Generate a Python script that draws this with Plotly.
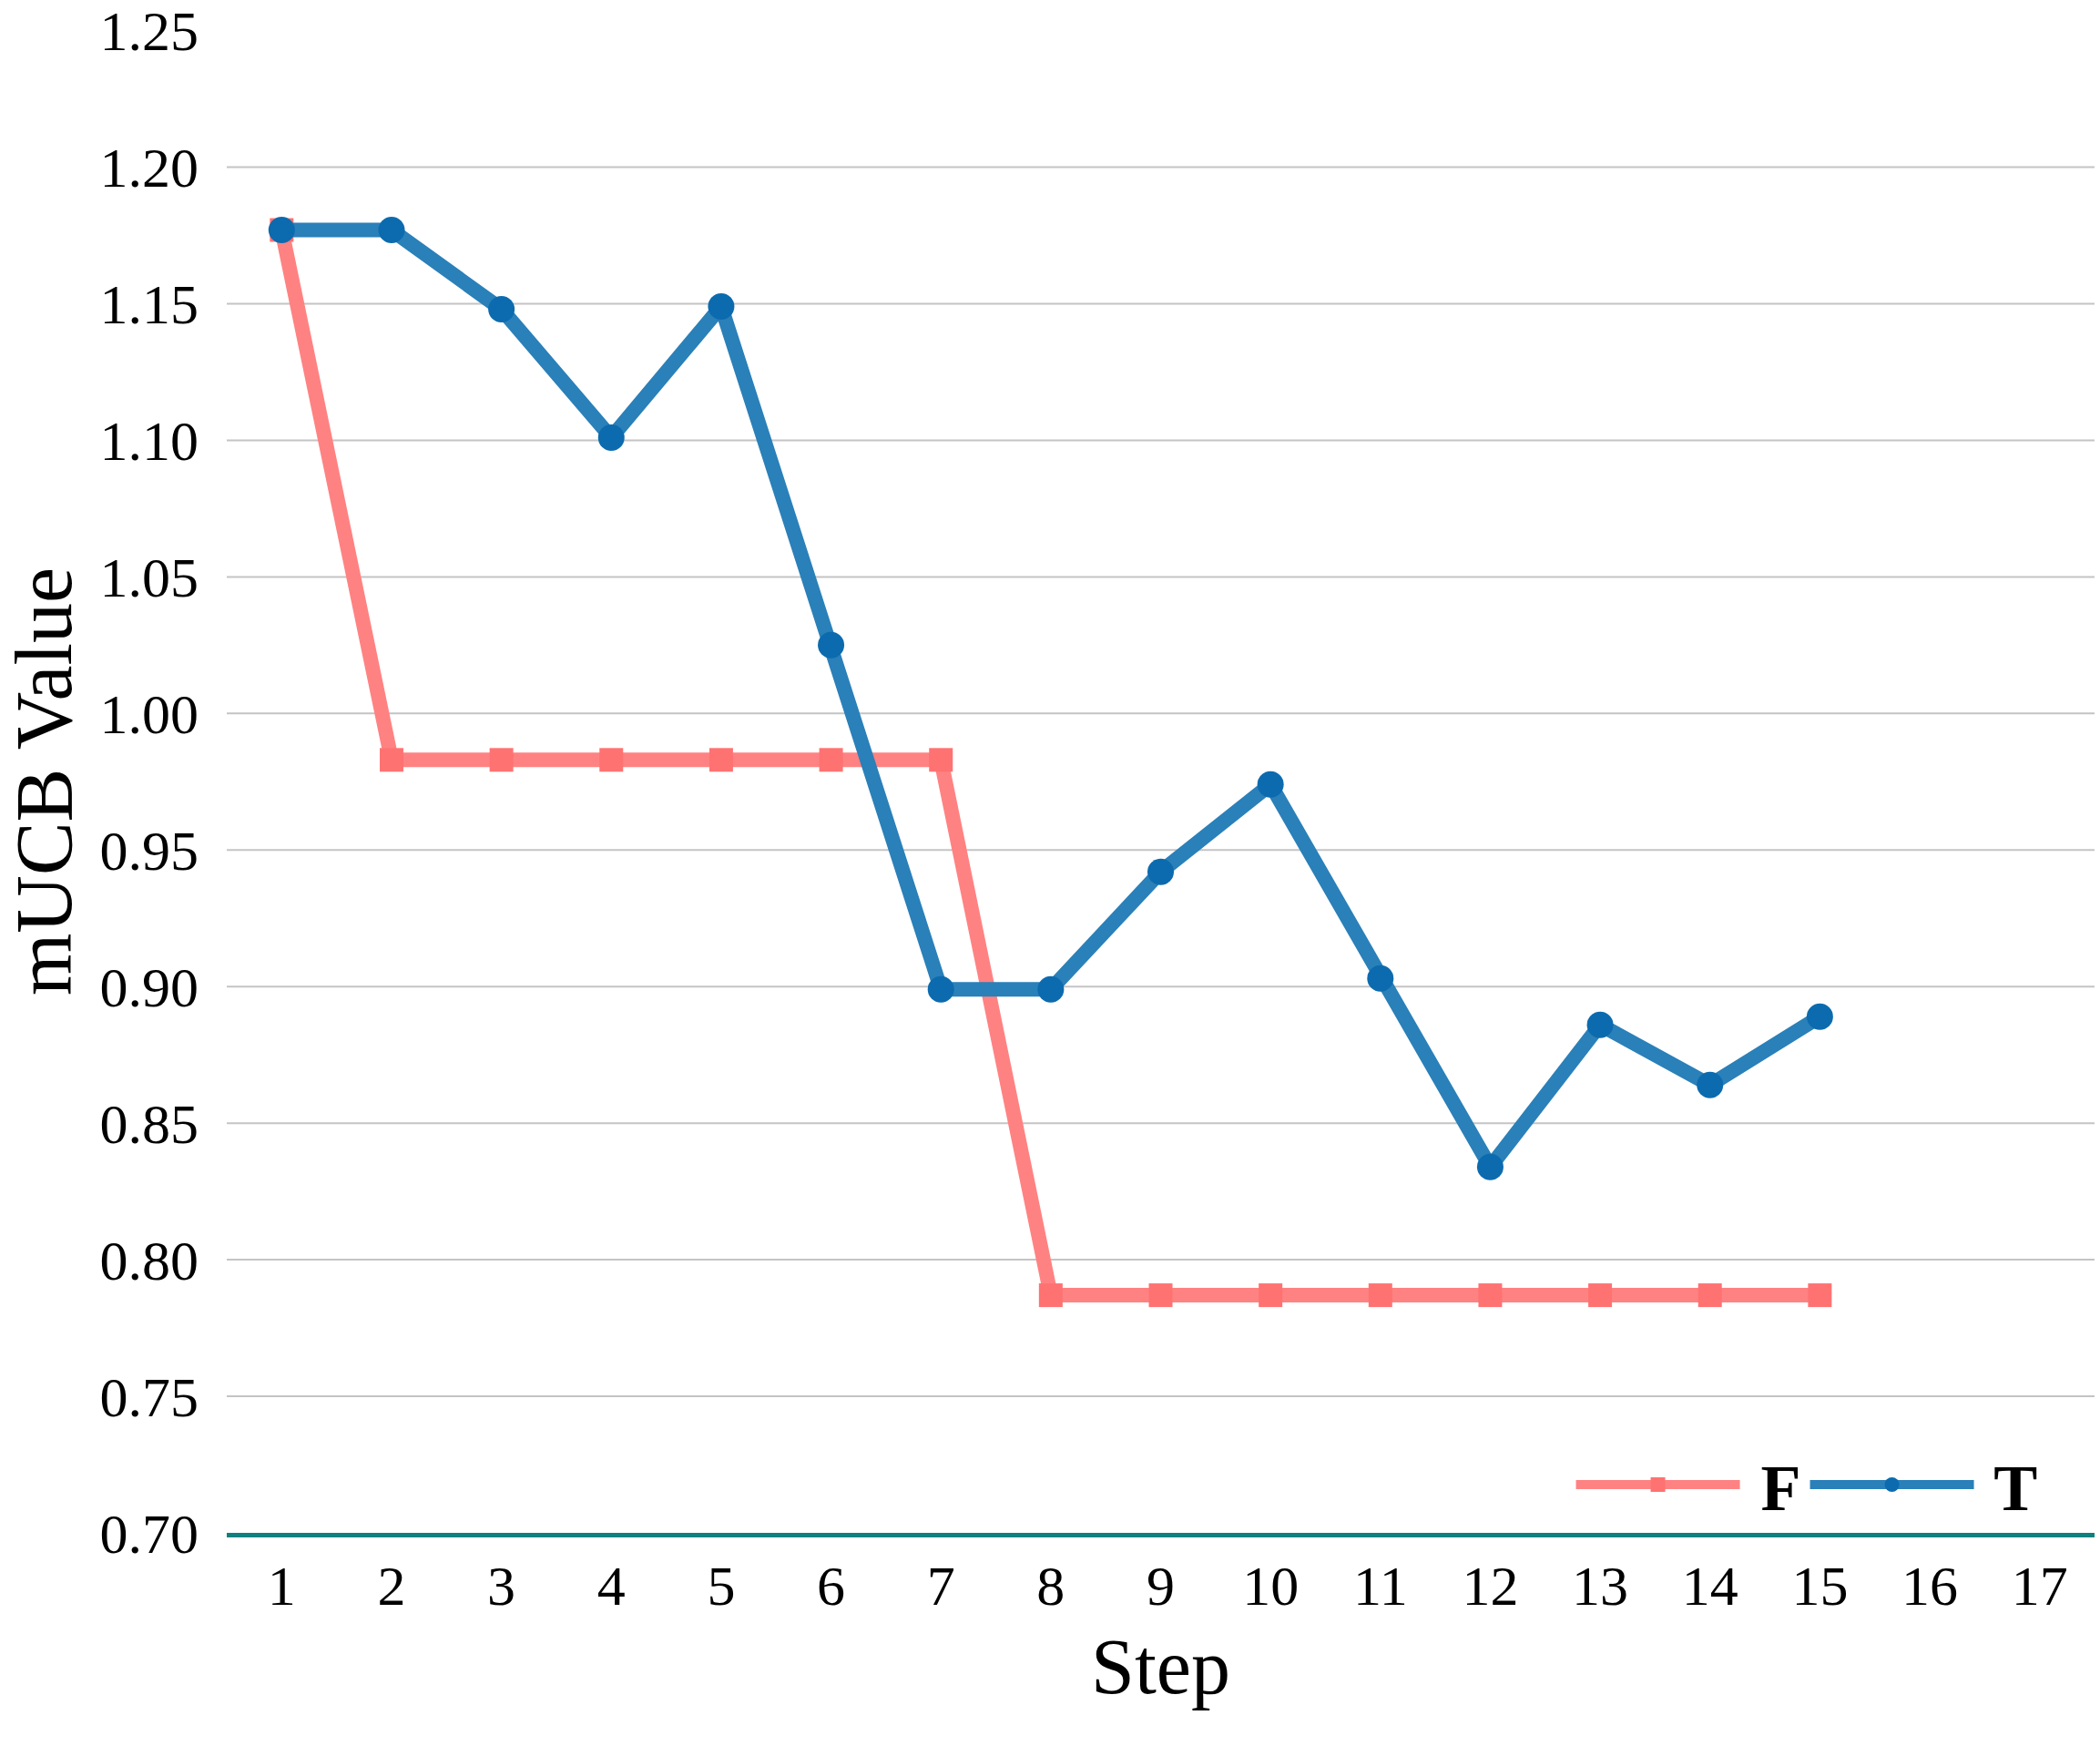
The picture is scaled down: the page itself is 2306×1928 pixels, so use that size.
import plotly.graph_objects as go

steps = [str(i) for i in range(1, 18)]
f_steps = [str(i) for i in range(1, 16)]
f_values = [1.177, 0.983, 0.983, 0.983, 0.983, 0.983, 0.983,
            0.787, 0.787, 0.787, 0.787, 0.787, 0.787, 0.787, 0.787]
t_steps = [str(i) for i in range(1, 16)]
t_values = [1.177, 1.177, 1.148, 1.101, 1.149, 1.025, 0.899, 0.899,
            0.942, 0.974, 0.903, 0.834, 0.886, 0.864, 0.889]
y_ticks = [0.70, 0.75, 0.80, 0.85, 0.90, 0.95, 1.00, 1.05, 1.10, 1.15, 1.20, 1.25]
y_ticktext = ["%.2f" % v for v in y_ticks]

FONT = "Liberation Serif"

fig = go.Figure()
fig.add_trace(go.Scatter(
    x=f_steps, y=f_values, name=" F", mode="lines+markers",
    line=dict(color="#FF8282", width=16),
    marker=dict(symbol="square", size=26, color="#FF7272"),
))
fig.add_trace(go.Scatter(
    x=t_steps, y=t_values, name=" T", mode="lines+markers",
    line=dict(color="#2A80B9", width=16),
    marker=dict(symbol="circle", size=29, color="#0C6BAE"),
))

# gridlines (skip bottom axis line and top)
for v in y_ticks[1:-1]:
    fig.add_shape(type="line", xref="paper", x0=0, x1=1, yref="y", y0=v, y1=v,
                  line=dict(color="#C4C4C4", width=2), layer="below")

fig.update_layout(
    width=2306, height=1928,
    margin=dict(l=249, r=6, t=33, b=245),
    paper_bgcolor="white", plot_bgcolor="white",
    font=dict(family=FONT, color="black"),
    showlegend=True,
    legend=dict(orientation="h", x=0.972, xanchor="right", y=0.032, yanchor="middle",
                font=dict(family=FONT, size=72, color="black", weight="bold"),
                itemwidth=180, bgcolor="rgba(0,0,0,0)", tracegroupgap=0),
    xaxis=dict(type="category", categoryorder="array", categoryarray=steps,
               range=[-0.5, 16.5], showgrid=False, zeroline=False,
               showline=True, linecolor="#0F8080", linewidth=5,
               tickfont=dict(family=FONT, size=62), ticks="", ticklabelstandoff=0,
               title=dict(text="Step", font=dict(family=FONT, size=86), standoff=26),
               automargin=False),
    yaxis=dict(range=[0.70, 1.2502], tickvals=y_ticks, ticktext=y_ticktext,
               showgrid=False, zeroline=False, showline=False,
               tickfont=dict(family=FONT, size=62), ticks="", ticklabelstandoff=30,
               title=dict(text="mUCB Value", font=dict(family=FONT, size=88), standoff=36),
               automargin=False),
)

fig.write_html("out.html")
